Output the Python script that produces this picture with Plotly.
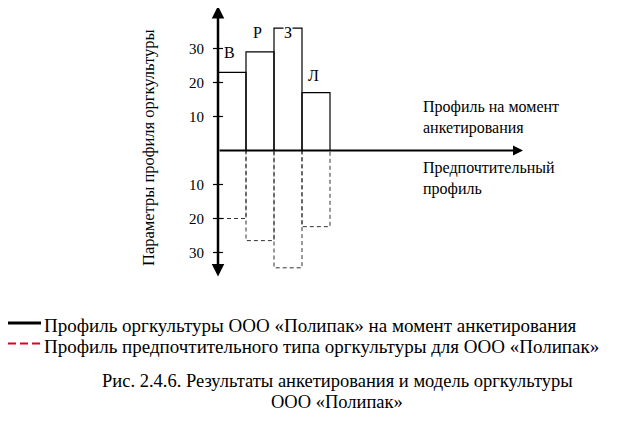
import plotly.graph_objects as go

# данные профилей
categories = ["В", "Р", "З", "Л"]
current_profile = [23, 29, 36, 17]          # профиль на момент анкетирования
preferred_profile = [20, 26.5, 34.5, 22.4]  # предпочтительный профиль (вниз)
tick_vals = [30, 20, 10, -10, -20, -30]
tick_text = ["30", "20", "10", "10", "20", "30"]

legend_current = "Профиль оргкультуры ООО «Полипак» на момент анкетирования"
legend_preferred = "Профиль предпочтительного типа оргкультуры для ООО «Полипак»"
caption_lines = ["Рис. 2.4.6. Результаты анкетирования и модель оргкультуры",
                 "ООО «Полипак»"]

FONT = "Liberation Serif"

# страница имеет отступ body 8px -> пересчёт координат экрана в координаты фигуры
OFF = 8
W, H = 620, 410
X0_PX, X_UNIT = 218 - OFF, 28      # ось Y
Y0_PX, Y_UNIT = 150.5 - OFF, 3.4   # ноль


def px(x):
    return (x - OFF) / W


def py(y):
    return 1 - (y - OFF) / H


def rect_path(values, sign):
    xs, ys = [], []
    for i, v in enumerate(values):
        xs += [i, i, i + 1, i + 1, None]
        ys += [0, sign * v, sign * v, 0, None]
    return xs, ys


fig = go.Figure()

xs, ys = rect_path(preferred_profile, -1)
fig.add_trace(go.Scatter(x=xs, y=ys, mode="lines", showlegend=False,
                         line=dict(color="#333333", width=1, dash="4px,3px")))

xs, ys = rect_path(current_profile, 1)
fig.add_trace(go.Scatter(x=xs, y=ys, mode="lines", showlegend=False,
                         line=dict(color="black", width=1.2)))

# засечки на оси
tx, ty = [], []
for v in tick_vals:
    tx += [-0.18, 0.18, None]
    ty += [v, v, None]
fig.add_trace(go.Scatter(x=tx, y=ty, mode="lines", showlegend=False,
                         line=dict(color="black", width=1.2)))

annotations = []
# оси со стрелками
annotations.append(dict(x=(523 - OFF - X0_PX) / X_UNIT, y=0, ax=0, ay=0,
                        xref="x", yref="y", axref="x", ayref="y", text="",
                        showarrow=True, arrowhead=2, arrowsize=1, arrowwidth=2,
                        arrowcolor="black"))
annotations.append(dict(x=0, y=(Y0_PX - (6 - OFF)) / Y_UNIT,
                        ax=0, ay=-((278 - OFF) - Y0_PX) / Y_UNIT,
                        xref="x", yref="y", axref="x", ayref="y", text="",
                        showarrow=True, arrowhead=2, startarrowhead=2,
                        arrowside="end+start", arrowsize=1, arrowwidth=2.5,
                        arrowcolor="black"))

# подписи столбцов
label_pos = [(229, 53), (257, 32), (288, 32), (313, 75)]
for c, (lx, ly) in zip(categories, label_pos):
    annotations.append(dict(x=px(lx), y=py(ly), xref="paper", yref="paper",
                            xanchor="center", yanchor="middle",
                            text=c, showarrow=False, bgcolor="white", borderpad=0,
                            font=dict(family=FONT, size=16, color="black")))

annotations.append(dict(x=px(421), y=py(117.5), xref="paper", yref="paper",
                        xanchor="left", yanchor="middle", align="left",
                        text="Профиль на момент<br>анкетирования", showarrow=False,
                        font=dict(family=FONT, size=16, color="black")))
annotations.append(dict(x=px(421), y=py(179), xref="paper", yref="paper",
                        xanchor="left", yanchor="middle", align="left",
                        text="Предпочтительный<br>профиль", showarrow=False,
                        font=dict(family=FONT, size=16, color="black")))

annotations.append(dict(x=px(148), y=py(148), xref="paper", yref="paper",
                        xanchor="center", yanchor="middle",
                        text="Параметры профиля оргкультуры", textangle=-90,
                        showarrow=False,
                        font=dict(family=FONT, size=16.5, color="black")))

# легенда (вручную)
for txt, ly in [(legend_current, 325), (legend_preferred, 346)]:
    annotations.append(dict(x=px(42), y=py(ly), xref="paper", yref="paper",
                            xanchor="left", yanchor="middle", text=txt,
                            showarrow=False,
                            font=dict(family=FONT, size=19, color="black")))

for txt, ly in zip(caption_lines, [381, 402]):
    annotations.append(dict(x=px(337), y=py(ly), xref="paper", yref="paper",
                            xanchor="center", yanchor="middle", text=txt,
                            showarrow=False,
                            font=dict(family=FONT, size=18.5, color="black")))

shapes = [
    dict(type="line", xref="paper", yref="paper", x0=px(8), x1=px(41),
         y0=py(323), y1=py(323), line=dict(color="black", width=3)),
    dict(type="line", xref="paper", yref="paper", x0=px(8), x1=px(41),
         y0=py(343.5), y1=py(343.5),
         line=dict(color="#e0001b", width=2, dash="8px,4px")),
]

fig.update_layout(
    width=W, height=H,
    margin=dict(l=0, r=0, t=0, b=0, autoexpand=False),
    paper_bgcolor="white", plot_bgcolor="white",
    xaxis=dict(range=[-X0_PX / X_UNIT, (W - X0_PX) / X_UNIT], visible=False,
               fixedrange=True),
    yaxis=dict(range=[-(H - Y0_PX) / Y_UNIT, Y0_PX / Y_UNIT],
               anchor="free", position=X0_PX / W, automargin=False,
               tickvals=tick_vals, ticktext=tick_text, ticks="",
               ticklabelstandoff=14,
               showgrid=False, zeroline=False, showline=False,
               tickfont=dict(family=FONT, size=15, color="black"),
               fixedrange=True),
    showlegend=False,
    annotations=annotations,
    shapes=shapes,
)

fig.write_html("out.html")
